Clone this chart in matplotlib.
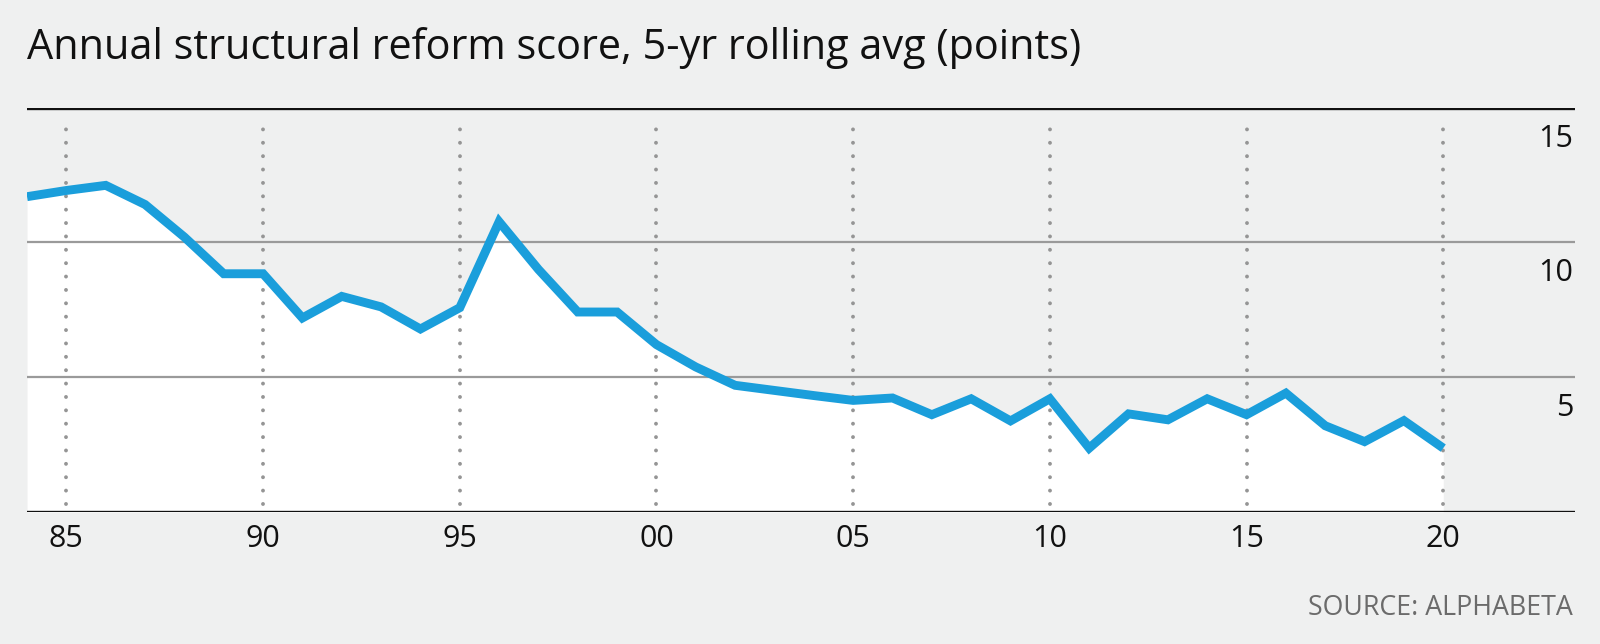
import matplotlib
matplotlib.use("Agg")
from matplotlib import pyplot as plt

years = list(range(1984, 2021))
scores = [11.70, 11.93, 12.12, 11.41, 10.20, 8.84, 8.84, 7.20, 8.00, 7.61,
          6.79, 7.58, 10.77, 9.00, 7.42, 7.42, 6.21, 5.38, 4.70, 4.51,
          4.32, 4.14, 4.23, 3.61, 4.20, 3.38, 4.20, 2.37, 3.64, 3.42,
          4.20, 3.61, 4.41, 3.20, 2.61, 3.39, 2.37]

xtick_years = [1985, 1990, 1995, 2000, 2005, 2010, 2015, 2020]
xtick_labels = ["85", "90", "95", "00", "05", "10", "15", "20"]
ytick_values = [15, 10, 5]
ytick_labels = ["15", "10", "5"]

bg = "#eff0f0"
blue = "#1a9edb"
plt.rcParams['font.family'] = ['Open Sans', 'DejaVu Sans']

fig = plt.figure(figsize=(16, 6.44), dpi=100, facecolor=bg)
ax = fig.add_axes([0.0169, 0.205, 0.9675, 0.6277])
ax.set_facecolor(bg)
ax.set_xlim(1984, 2023.35)
ax.set_ylim(0, 15)
for s in ax.spines.values():
    s.set_visible(False)

# white area under the line
ax.fill_between(years, scores, 0, color="white", lw=0, zorder=1)

# dotted verticals every 5 years
for yr in xtick_years:
    ax.plot([yr, yr], [0.3, 14.5], color="#959595", lw=2.8,
            linestyle=(0, (0.01, 3.43)), dash_capstyle="round", zorder=2)

# horizontal rules
ax.axhline(5, color="#9a9a9a", lw=1.6, zorder=2)
ax.axhline(10, color="#9a9a9a", lw=1.6, zorder=2)
ax.axhline(0, color="#111111", lw=2.4, zorder=3)
ax.axhline(15, color="#111111", lw=2.4, zorder=3)

ax.plot(years, scores, color=blue, lw=6.4, solid_joinstyle="miter",
        solid_capstyle="butt", zorder=4)

# y labels sit under their rule at the right edge
for v, lab in zip(ytick_values, ytick_labels):
    ax.text(2023.3, v - 1.15, lab, ha="right", va="center", fontsize=22,
            color="#111111")

ax.set_yticks([])
ax.set_xticks(xtick_years)
ax.set_xticklabels(xtick_labels, fontsize=22, color="#111111")
ax.tick_params(axis="x", length=0, pad=9)

fig.text(0.0168, 0.908, "Annual structural reform score, 5-yr rolling avg (points)",
         fontsize=29.9, color="#111111", ha="left", va="baseline")
fig.text(0.983, 0.056, "SOURCE: ALPHABETA", fontsize=19.3, color="#6b6b6b",
         ha="right", va="center")

fig.savefig("out.png", dpi=100, facecolor=bg)
